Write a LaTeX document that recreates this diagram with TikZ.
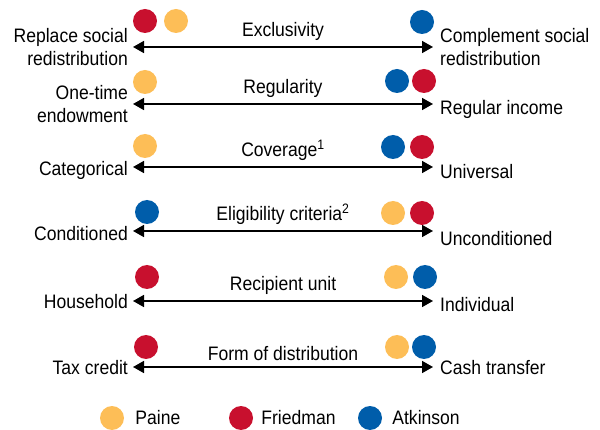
\documentclass[tikz,border=0pt]{standalone}
\usepackage{fontspec}
\setmainfont{Liberation Sans}[FakeStretch=0.9]
\usepackage{tikz}
\usetikzlibrary{arrows.meta,positioning}

\definecolor{paine}{HTML}{FDBE57}
\definecolor{friedman}{HTML}{C8102E}
\definecolor{atkinson}{HTML}{005DAA}
\newcommand\labfont{\fontsize{19.5}{23}\selectfont}

\tikzset{
    dot/.style={circle,fill=#1,inner sep=0pt,minimum size=24pt},
    axis/.style={{Triangle[length=11pt,width=12pt]}-{Triangle[length=11pt,width=12pt]},line width=1.7pt},
    lefttxt/.style={anchor=east,align=right,inner sep=0pt,font=\labfont},
    righttxt/.style={anchor=west,align=left,inner sep=0pt,font=\labfont},
    midtxt/.style={inner sep=0pt,font=\labfont}
}

\begin{document}
\begin{tikzpicture}[x=1pt,y=-1pt]
            \useasboundingbox (0,0) rectangle (600,430);

            % Exclusivity
            \coordinate (l1) at (133,47);
            \coordinate (r1) at (433,47);
            \draw[axis] (l1) -- (r1);
            \path (l1) -- node[midtxt,above=6pt] (m1) {Exclusivity} (r1);
            \node[lefttxt,left=5pt of l1] (a1) {Replace social\\redistribution};
            \node[righttxt,right=7pt of r1] (b1) {Complement social\\redistribution};
            \node[dot=friedman] (f1) at (145,21) {};
            \node[dot=paine] (p1) at (176,21) {};
            \node[dot=atkinson] (k1) at (422,22) {};

            % Regularity
            \coordinate (l2) at (133,104);
            \coordinate (r2) at (433,104);
            \draw[axis] (l2) -- (r2);
            \path (l2) -- node[midtxt,above=6pt] (m2) {Regularity} (r2);
            \node[lefttxt,left=5pt of l2] (a2) {One-time\\endowment};
            \node[righttxt,right=7pt of r2,yshift=-5pt] (b2) {Regular income};
            \node[dot=paine] (p2) at (145,82) {};
            \node[dot=atkinson] (k2) at (397,81) {};
            \node[dot=friedman] (f2) at (424,81) {};

            % Coverage
            \coordinate (l3) at (133,167);
            \coordinate (r3) at (433,167);
            \draw[axis] (l3) -- (r3);
            \path (l3) -- node[midtxt,above=6pt] (m3) {Coverage\textsuperscript{1}} (r3);
            \node[lefttxt,left=5pt of l3,yshift=-3pt] (a3) {Categorical};
            \node[righttxt,right=7pt of r3,yshift=-5pt] (b3) {Universal};
            \node[dot=paine] (p3) at (145,146) {};
            \node[dot=atkinson] (k3) at (393,147) {};
            \node[dot=friedman] (f3) at (422,147) {};

            % Eligibility criteria
            \coordinate (l4) at (133,231);
            \coordinate (r4) at (433,231);
            \draw[axis] (l4) -- (r4);
            \path (l4) -- node[midtxt,above=6pt] (m4) {Eligibility criteria\textsuperscript{2}} (r4);
            \node[lefttxt,left=5pt of l4,yshift=-3pt] (a4) {Conditioned};
            \node[righttxt,right=7pt of r4,yshift=-8pt] (b4) {Unconditioned};
            \node[dot=atkinson] (k4) at (147,212) {};
            \node[dot=paine] (p4) at (393,213) {};
            \node[dot=friedman] (f4) at (422,213) {};

            % Recipient unit
            \coordinate (l5) at (133,301);
            \coordinate (r5) at (433,301);
            \draw[axis] (l5) -- (r5);
            \path (l5) -- node[midtxt,above=6pt] (m5) {Recipient unit} (r5);
            \node[lefttxt,left=5pt of l5,yshift=-1pt] (a5) {Household};
            \node[righttxt,right=7pt of r5,yshift=-4pt] (b5) {Individual};
            \node[dot=friedman] (f5) at (147,277) {};
            \node[dot=paine] (p5) at (396,277) {};
            \node[dot=atkinson] (k5) at (425,277) {};

            % Form of distribution
            \coordinate (l6) at (133,367);
            \coordinate (r6) at (433,367);
            \draw[axis] (l6) -- (r6);
            \path (l6) -- node[midtxt,above=6pt] (m6) {Form of distribution} (r6);
            \node[lefttxt,left=5pt of l6,yshift=-1pt] (a6) {Tax credit};
            \node[righttxt,right=7pt of r6,yshift=-1pt] (b6) {Cash transfer};
            \node[dot=friedman] (f6) at (146,347) {};
            \node[dot=paine] (p6) at (397,347) {};
            \node[dot=atkinson] (k6) at (424,347) {};

            % legend
            \node[dot=paine] (kp) at (112,418) {};
            \node[righttxt,right=11pt of kp] (tp) {Paine};
            \node[dot=friedman] (kf) at (241,418) {};
            \node[righttxt,right=8pt of kf] (tf) {Friedman};
            \node[dot=atkinson] (ka) at (370,418) {};
            \node[righttxt,right=10pt of ka] (ta) {Atkinson};
        \end{tikzpicture}
\end{document}
